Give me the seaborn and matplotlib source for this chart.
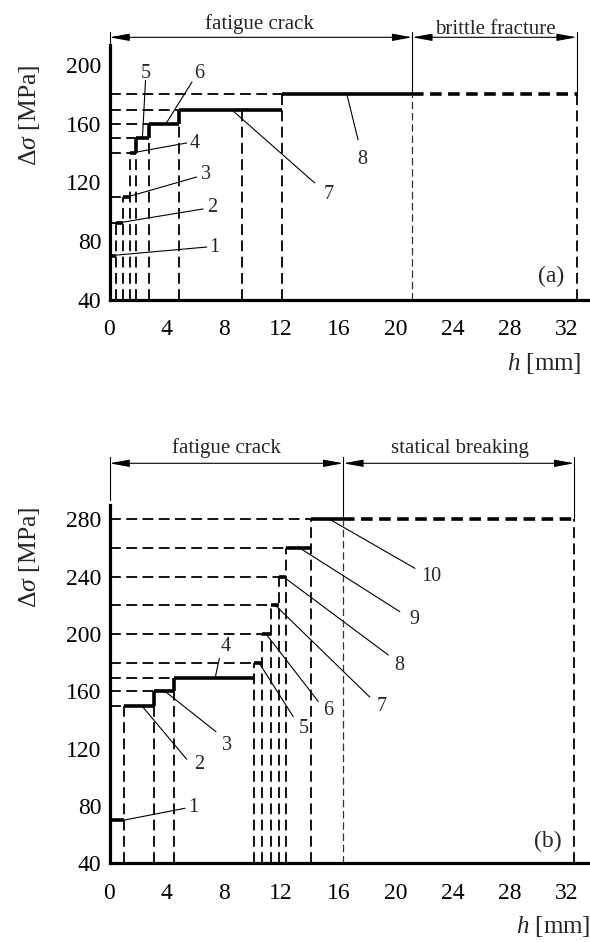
import numpy as np
import pandas as pd
import matplotlib
matplotlib.use("Agg")
import matplotlib.pyplot as plt
import seaborn as sns
from matplotlib.patches import FancyArrowPatch, ArrowStyle

# ---------------- data ----------------
x_ticks = [0, 4, 8, 12, 16, 20, 24, 28, 32]

# panel (a)
a_start = [0.0, 0.45, 0.96, 1.43, 1.85, 2.76, 4.88, 12.04]
a_stress = [70, 92, 110, 140, 150, 160, 169, 180]
a_labels = ["1", "2", "3", "4", "5", "6", "7", "8"]
a_crack_end = 21.17
a_end = 32.67
a_extra = [9.24]
a_yticks = [40, 80, 120, 160, 200]
a_zone_text = ["fatigue crack", "brittle fracture"]

# panel (b)
b_start = [0.0, 1.01, 3.13, 4.49, 10.1, 10.64, 11.27, 11.87, 12.31, 14.07]
b_stress = [70, 150, 160, 169, 180, 200, 220, 240, 260, 280]
b_labels = ["1", "2", "3", "4", "5", "6", "7", "8", "9", "10"]
b_crack_end = 16.35
b_end = 32.5
b_extra = []
b_yticks = [40, 80, 120, 160, 200, 240, 280]
b_zone_text = ["fatigue crack", "statical breaking"]

# leader lines: (start h, start stress, end h, end stress, label h, label stress)
a_leaders = [
    (0.15, 70, 6.8, 75.8, 7.35, 75.8),
    (0.45, 92, 6.55, 101.8, 7.15, 102.5),
    (1.25, 110, 6.1, 123.6, 6.75, 125.0),
    (1.55, 140, 5.4, 146.8, 5.95, 146.3),
    (2.3, 150, 2.52, 189.5, 2.5, 194.5),
    (3.95, 160, 5.77, 188.4, 6.25, 194.5),
    (8.6, 169, 14.35, 119.5, 15.3, 111.5),
    (16.6, 180, 17.38, 149, 17.65, 135.5),
]
b_leaders = [
    (0.95, 70, 5.28, 78.4, 5.85, 79.0),
    (2.25, 150, 5.4, 112.6, 6.3, 108.6),
    (3.88, 160, 7.45, 131.8, 8.25, 122.0),
    (7.38, 169, 7.68, 183, 8.1, 191.5),
    (10.45, 180, 12.85, 142.3, 13.55, 134.2),
    (10.95, 200, 14.6, 152.9, 15.3, 146.5),
    (11.6, 220, 18.2, 156.0, 19.0, 149.3),
    (12.15, 240, 19.5, 185.3, 20.27, 177.7),
    (13.3, 260, 20.3, 215.6, 21.35, 210.0),
    (15.4, 280, 21.36, 245.8, 22.5, 240.0),
]

# ---------------- style ----------------
sns.set_theme(style="white")
plt.rcParams["font.family"] = ["Liberation Serif", "DejaVu Serif"]
plt.rcParams["mathtext.fontset"] = "custom"
plt.rcParams["mathtext.rm"] = "Liberation Serif"
plt.rcParams["mathtext.it"] = "Liberation Serif:italic"

W, H = 590, 942
fig = plt.figure(figsize=(W / 100, H / 100), dpi=100)
fig.patch.set_facecolor("white")

PXMM = 14.3
X0 = 109.5
XMAX = (588 - X0) / PXMM

THIN_DASH = (0, (6, 3))
THICK = 2.6


def px_ax(top, bottom):
    return [X0 / W, 1 - bottom / H, (XMAX * PXMM) / W, (bottom - top) / H]


def draw_panel(ax, starts, stress, crack_end, end, extra, yticks, ytop,
               leaders, labels, zone_text, arrow_y, vtop, text_y, zone_x,
               left_vbot, letter, letter_pos):
    ends = starts[1:] + [crack_end]
    rows = []
    seg = 0
    for s, e, v in zip(starts, ends, stress):
        rows.append((s, v, seg)); rows.append((e, v, seg)); seg += 1
    for i in range(1, len(starts)):
        if stress[i] - stress[i - 1] <= 10:
            rows.append((starts[i], stress[i - 1], seg))
            rows.append((starts[i], stress[i], seg)); seg += 1
    df = pd.DataFrame(rows, columns=["h", "stress", "seg"])
    sns.lineplot(data=df, x="h", y="stress", units="seg", estimator=None,
                 sort=False, color="black", linewidth=THICK, legend=False,
                 ax=ax, solid_capstyle="butt")

    last = stress[-1]
    # brittle / statical continuation
    ax.plot([crack_end, end], [last, last], color="black", lw=THICK,
            linestyle=(0, (3.2, 1.8)), solid_capstyle="butt")
    # vertical dashed guides
    for s, v in zip(starts[1:], stress[1:]):
        ax.vlines(s, 40, v, colors="black", lw=1.3, linestyles=[THIN_DASH])
    for xe in extra:
        idx = max(i for i, s in enumerate(starts) if s <= xe)
        ax.vlines(xe, 40, stress[idx], colors="black", lw=1.3,
                  linestyles=[THIN_DASH])
    ax.vlines(crack_end, 40, last, colors="#333333", lw=0.9,
              linestyles=[THIN_DASH])
    ax.vlines(end, 40, last, colors="black", lw=1.3, linestyles=[THIN_DASH])
    # horizontal dashed guides
    for s, v in zip(starts[1:], stress[1:]):
        ax.hlines(v, 0, s, colors="black", lw=1.3, linestyles=[THIN_DASH])

    # zone markers above
    for xv, yb in [(0, left_vbot), (crack_end, last), (end, last)]:
        ax.plot([xv, xv], [yb, vtop], color="black", lw=0.8, clip_on=False)
    for x1, x2 in [(0, crack_end), (crack_end, end)]:
        arr = FancyArrowPatch((x1, arrow_y), (x2, arrow_y),
                              arrowstyle=ArrowStyle("<|-|>", head_length=1.2,
                                                    head_width=0.22),
                              mutation_scale=10, color="black", lw=0.8,
                              shrinkA=0, shrinkB=0)
        arr.set_clip_on(False)
        ax.add_patch(arr)
    for t, xc, yb in zip(zone_text, zone_x, text_y):
        ax.text(xc, yb, t, ha="center", va="baseline", fontsize=15,
                clip_on=False)

    # leaders
    for (x0, y0, x1, y1, lx, ly), lab in zip(leaders, labels):
        ax.plot([x0, x1], [y0, y1], color="black", lw=0.8)
        ax.text(lx, ly, lab, ha="center", va="center", fontsize=14.5)

    ax.text(letter_pos[0], letter_pos[1], letter, ha="center", va="center",
            fontsize=17)

    ax.set_xlim(0, XMAX)
    ax.set_ylim(40, ytop)
    ax.set_xticks(x_ticks)
    ax.set_yticks(yticks)
    ax.set_xlabel("")
    ax.set_ylabel("")
    for sp in ["top", "right"]:
        ax.spines[sp].set_visible(False)
    for sp in ["left", "bottom"]:
        ax.spines[sp].set_linewidth(2.3)
        ax.spines[sp].set_color("black")
    ax.tick_params(axis="both", direction="in", length=5, width=0.9,
                   colors="black", labelsize=17)
    ax.tick_params(axis="x", pad=14)
    ax.tick_params(axis="y", pad=6)
    ax.set_facecolor("white")


ax_a = fig.add_axes(px_ax(45, 299.5))
draw_panel(ax_a, a_start, a_stress, a_crack_end, a_end, a_extra, a_yticks,
           40 + (299.5 - 45) / 1.4656, a_leaders, a_labels, a_zone_text,
           arrow_y=218.9, vtop=222.5, text_y=[224.6, 221.3],
           zone_x=[10.47, 26.96], left_vbot=215, letter="(a)",
           letter_pos=(30.9, 55.4))

ax_b = fig.add_axes(px_ax(505, 863.3))
draw_panel(ax_b, b_start, b_stress, b_crack_end, b_end, b_extra, b_yticks,
           40 + (863.3 - 505) / 1.4332, b_leaders, b_labels, b_zone_text,
           arrow_y=319.1, vtop=323.7, text_y=[326.3, 326.3],
           zone_x=[8.15, 24.48], left_vbot=293.5, letter="(b)",
           letter_pos=(30.65, 55.1))

ylab = r"$\mathit{\Delta\sigma}$ [MPa]"
fig.text(30 / W, 1 - 115 / H, ylab, rotation=90, ha="center", va="center",
         fontsize=18.5)
fig.text(30 / W, 1 - 557 / H, ylab, rotation=90, ha="center", va="center",
         fontsize=18.5)
fig.text(507 / W, 1 - 363 / H, r"$\mathit{h}$ [mm]", ha="left", va="center",
         fontsize=18)
fig.text(516 / W, 1 - 926.7 / H, r"$\mathit{h}$ [mm]", ha="left",
         va="center", fontsize=18)

fig.savefig("out.png", dpi=100, facecolor="white")
